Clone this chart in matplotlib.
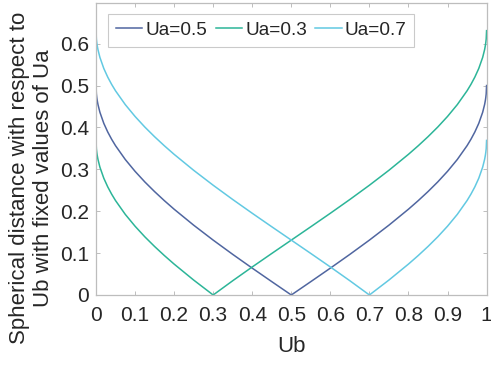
import matplotlib
matplotlib.use("Agg")
import matplotlib.pyplot as plt

ub = [0, 0.001, 0.002, 0.003, 0.005, 0.01, 0.02, 0.03, 0.04, 0.05, 0.075, 0.1, 0.125,
      0.15, 0.175, 0.2, 0.25, 0.3, 0.35, 0.4, 0.45, 0.5, 0.55, 0.6, 0.65, 0.7, 0.75,
      0.8, 0.825, 0.85, 0.875, 0.9, 0.925, 0.95, 0.96, 0.97, 0.98, 0.99, 0.995, 0.997,
      0.998, 0.999, 1]

dist_ua05 = [0.5, 0.4799, 0.4715, 0.4651, 0.4549, 0.4362, 0.4097, 0.3892, 0.3718, 0.3564,
             0.3234, 0.2952, 0.2699, 0.2468, 0.2252, 0.2048, 0.1667, 0.1310, 0.0970, 0.0641,
             0.0319, 0.0, 0.0319, 0.0641, 0.0970, 0.1310, 0.1667, 0.2048, 0.2252, 0.2468,
             0.2699, 0.2952, 0.3234, 0.3564, 0.3718, 0.3892, 0.4097, 0.4362, 0.4549, 0.4651,
             0.4715, 0.4799, 0.5]

dist_ua03 = [0.369, 0.3489, 0.3405, 0.3341, 0.3239, 0.3052, 0.2787, 0.2582, 0.2408, 0.2254,
             0.1924, 0.1642, 0.1389, 0.1158, 0.0942, 0.0738, 0.0357, 0.0, 0.0340, 0.0669,
             0.0991, 0.1310, 0.1629, 0.1951, 0.2280, 0.2620, 0.2977, 0.3358, 0.3562, 0.3778,
             0.4009, 0.4262, 0.4544, 0.4874, 0.5028, 0.5202, 0.5407, 0.5672, 0.5859, 0.5961,
             0.6025, 0.6109, 0.631]

dist_ua07 = [0.631, 0.6109, 0.6025, 0.5961, 0.5859, 0.5672, 0.5407, 0.5202, 0.5028, 0.4874,
             0.4544, 0.4262, 0.4009, 0.3778, 0.3562, 0.3358, 0.2977, 0.2620, 0.2280, 0.1951,
             0.1629, 0.1310, 0.0991, 0.0669, 0.0340, 0.0, 0.0357, 0.0738, 0.0942, 0.1158,
             0.1389, 0.1642, 0.1924, 0.2254, 0.2408, 0.2582, 0.2787, 0.3052, 0.3239, 0.3341,
             0.3405, 0.3489, 0.369]

labels = ["Ua=0.5", "Ua=0.3", "Ua=0.7"]
colors = ["#5066a0", "#2cb598", "#62c9e2"]

xticks = [0, 0.1, 0.2, 0.3, 0.4, 0.5, 0.6, 0.7, 0.8, 0.9, 1]
xticklabels = ["0", "0.1", "0.2", "0.3", "0.4", "0.5", "0.6", "0.7", "0.8", "0.9", "1"]
yticks = [0, 0.1, 0.2, 0.3, 0.4, 0.5, 0.6]
yticklabels = ["0", "0.1", "0.2", "0.3", "0.4", "0.5", "0.6"]

plt.rcParams["font.family"] = ["Liberation Sans", "DejaVu Sans"]

fig = plt.figure(figsize=(4.91, 3.65), dpi=100)
ax = fig.add_axes([0.1955, 0.1918, 0.7955, 0.80])

for ys, lab, col in zip([dist_ua05, dist_ua03, dist_ua07], labels, colors):
    ax.plot(ub, ys, color=col, lw=1.1, label=lab)

ax.set_xlim(0, 1)
ax.set_ylim(0, 0.697)
ax.set_xticks(xticks)
ax.set_xticklabels(xticklabels)
ax.set_yticks(yticks)
ax.set_yticklabels(yticklabels)

txt = "#262626"
edge = "#bdbdbd"
for s in ax.spines.values():
    s.set_color(edge)
    s.set_linewidth(0.9)
ax.tick_params(direction="in", length=3, width=0.7, color=edge, labelsize=15,
               labelcolor=txt, top=True, right=True)
ax.tick_params(axis="x", pad=8)
ax.tick_params(axis="y", pad=5)

ax.set_xlabel("Ub", fontsize=16, color=txt, labelpad=8)
ax.set_ylabel("Spherical distance with respect to\nUb with fixed values of Ua",
              fontsize=16, color=txt, linespacing=1.15)
ax.yaxis.set_label_coords(-0.108, 0.40)

leg = ax.legend(loc="upper left", ncol=3, fontsize=13.7, frameon=True, fancybox=False,
                handlelength=1.4, handletextpad=0.15, columnspacing=0.45,
                borderpad=0.4, borderaxespad=0.0, bbox_to_anchor=(0.031, 0.962))
leg.get_frame().set_edgecolor(edge)
leg.get_frame().set_linewidth(0.8)
for t in leg.get_texts():
    t.set_color(txt)

fig.savefig("out.png", dpi=100)
